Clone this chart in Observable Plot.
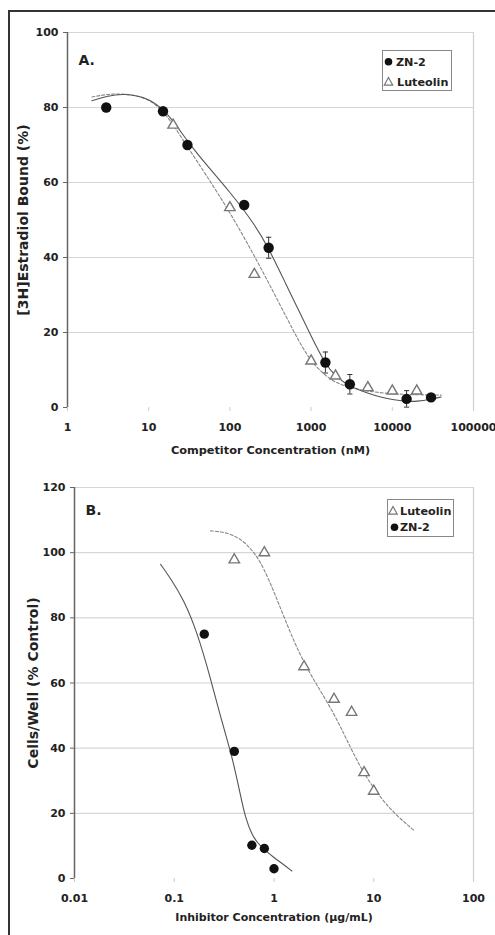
<!DOCTYPE html>
<html>
<head>
<meta charset="utf-8">
<script src="https://cdn.jsdelivr.net/npm/d3@7"></script>
<script src="https://cdn.jsdelivr.net/npm/@observablehq/plot@0.6"></script>
<style>
  body { margin: 0; background: #fff; }
  #fig { position: relative; width: 495px; height: 935px; overflow: hidden; background: #fff;
         font-family: "DejaVu Sans", sans-serif; font-weight: bold; color: #222; }
  .panel { position: absolute; left: 0; }
  .legend { position: absolute; background: #fff; border: 1px solid #888; box-sizing: border-box; }
  .legend svg { display: block; }
  #frame { position: absolute; left: 8px; top: 10px; width: 600px; height: 1000px;
           border-left: 2px solid #333; border-top: 2px solid #333; pointer-events: none; }
</style>
</head>
<body>
<div id="fig">
  <div id="panelA" class="panel" style="top:0px"></div>
  <div id="panelB" class="panel" style="top:465px"></div>
  <div id="legendA" class="legend" style="left:382px; top:50px; width:70px; height:41px"></div>
  <div id="legendB" class="legend" style="left:387px; top:499px; width:67px; height:38px"></div>
  <div id="frame"></div>
</div>
<script>
// ---------- Series names / labels ----------
const seriesZN = "ZN-2";
const seriesLut = "Luteolin";
const panelLabelA = "A.";
const panelLabelB = "B.";
const xTitleA = "Competitor Concentration (nM)";
const yTitleA = "[3H]Estradiol Bound (%)";
const xTitleB = "Inhibitor Concentration (µg/mL)";
const yTitleB = "Cells/Well (% Control)";

// ---------- Panel A: axes ----------
const xDomainA = [1, 100000];
const yDomainA = [0, 100];
const xTicksA = [1, 10, 100, 1000, 10000, 100000];
const yTicksA = [0, 20, 40, 60, 80, 100];

// ---------- Panel A: ZN-2 data (mean ± error) ----------
const znA_x = [3, 15, 30, 150, 300, 1500, 3000, 15000, 30000];
const znA_y = [80, 79, 70, 54, 42.6, 12, 6.2, 2.3, 2.7];
const znA_err = [1, 1, 1, 1, 2.8, 2.8, 2.6, 2.2, 1];

// ---------- Panel A: Luteolin data ----------
const lutA_x = [20, 100, 200, 1000, 2000, 5000, 10000, 20000];
const lutA_y = [75.3, 53.3, 35.5, 12.4, 8.4, 5.3, 4.4, 4.4];

// ---------- Panel A: fitted curves ----------
const fitZnA_x = [2, 3, 5, 10, 15, 20, 30, 50, 100, 200, 300, 500, 700, 1000, 1500, 2000, 3000, 5000, 7000, 10000, 15000, 20000, 30000, 40000];
const fitZnA_y = [81.8, 83, 83.8, 82.5, 79.5, 76.5, 71, 65, 57.5, 49, 42.5, 32.5, 26, 19, 11.5, 8.3, 5.6, 3.8, 2.8, 2.1, 1.6, 1.6, 2.2, 2.8];
const fitLutA_x = [2, 3, 5, 10, 15, 20, 30, 50, 100, 200, 300, 500, 700, 1000, 1500, 2000, 3000, 5000, 10000, 20000, 40000];
const fitLutA_y = [82.8, 83.5, 83.8, 82.5, 79, 75.5, 69.5, 62.3, 52.1, 40.5, 33.2, 24, 17.8, 12.2, 8.5, 6.6, 5.3, 4.3, 3.6, 3.4, 3.3];

// ---------- Panel B: axes ----------
const xDomainB = [0.01, 100];
const yDomainB = [0, 120];
const xTicksB = [0.01, 0.1, 1, 10, 100];
const yTicksB = [0, 20, 40, 60, 80, 100, 120];

// ---------- Panel B: data ----------
const lutB_x = [0.4, 0.8, 2, 4, 6, 8, 10];
const lutB_y = [97.8, 100, 65, 55, 51, 32.5, 26.8];
const znB_x = [0.2, 0.4, 0.6, 0.8, 1];
const znB_y = [75, 39, 10.2, 9.2, 3];

// ---------- Panel B: fitted curves ----------
const fitZnB_x = [0.073, 0.09, 0.125, 0.17, 0.231, 0.291, 0.381, 0.461, 0.518, 0.6, 0.68, 0.8, 1.0, 1.25, 1.51];
const fitZnB_y = [96.4, 92.5, 85.5, 75.5, 61.5, 49.5, 37.5, 25.5, 18.5, 13.5, 11, 8.8, 6.4, 4.3, 2.3];
const fitLutB_x = [0.231, 0.3, 0.366, 0.45, 0.538, 0.65, 0.79, 1.0, 1.25, 1.6, 2.0, 2.5, 3.0, 4.0, 5.0, 6.0, 8.0, 11.7, 16, 25.2];
const fitLutB_y = [106.7, 106.4, 105.7, 104.4, 102.4, 99.6, 95.2, 88, 80.5, 72.5, 66.3, 61, 57, 50.5, 44.5, 39.5, 32, 24.8, 20, 14.8];

// ---------- helpers ----------
const zip = (xs, ys) => xs.map((x, i) => ({x, y: ys[i]}));
const capSymbol = {
  draw(ctx, size) { const r = Math.sqrt(size / Math.PI); ctx.moveTo(-r, 0); ctx.lineTo(r, 0); }
};
const baseStyle = {
  fontFamily: "'DejaVu Sans', sans-serif", fontWeight: "bold", fontSize: "11px",
  color: "#222", background: "transparent", overflow: "visible"
};
const fmt = d => String(d);

// ---------- Panel A ----------
const znA = znA_x.map((x, i) => ({x, y: znA_y[i], lo: znA_y[i] - znA_err[i], hi: znA_y[i] + znA_err[i]}));
const capsA = znA.flatMap(d => [{x: d.x, y: d.lo}, {x: d.x, y: d.hi}]);

const plotA = Plot.plot({
  width: 495, height: 465,
  marginLeft: 67, marginRight: 22, marginTop: 32, marginBottom: 58,
  x: {type: "log", domain: xDomainA},
  y: {domain: yDomainA},
  style: baseStyle,
  marks: [
    Plot.ruleY(yTicksA.filter(d => d > 0), {stroke: "#d6d6d6", strokeWidth: 1.2}),
    Plot.ruleX([xDomainA[1]], {stroke: "#d0d0d0", strokeWidth: 1.2}),
    Plot.ruleX([xDomainA[0]], {stroke: "#666", strokeWidth: 1.5}),
    Plot.axisY({ticks: yTicksA, tickSize: 4, tickPadding: 5, stroke: "#666", fill: "#222", label: null, tickFormat: fmt}),
    Plot.axisX({ticks: xTicksA, tickSize: 4, tickPadding: 12, stroke: "#ccc", fill: "#222", label: null, tickFormat: fmt}),
    Plot.line(zip(fitLutA_x, fitLutA_y), {x: "x", y: "y", curve: "basis", stroke: "#888", strokeWidth: 1.1, strokeDasharray: "3,2"}),
    Plot.line(zip(fitZnA_x, fitZnA_y), {x: "x", y: "y", curve: "basis", stroke: "#555", strokeWidth: 1.1}),
    Plot.ruleX(znA, {x: "x", y1: "lo", y2: "hi", stroke: "#333", strokeWidth: 1}),
    Plot.dot(capsA, {x: "x", y: "y", symbol: capSymbol, r: 2.6, stroke: "#333", strokeWidth: 1}),
    Plot.dot(zip(lutA_x, lutA_y), {x: "x", y: "y", symbol: "triangle", r: 3.9, stroke: "#777", fill: "white", strokeWidth: 1.4}),
    Plot.dot(znA, {x: "x", y: "y", r: 5.2, fill: "#111", stroke: "none"}),
    Plot.text([panelLabelA], {text: d => d, frameAnchor: "top-left", textAnchor: "start", dx: 11, dy: 23, fontSize: 14, fill: "#222"}),
    Plot.text([xTitleA], {text: d => d, frameAnchor: "bottom", textAnchor: "middle", dy: 46, fontSize: 11.3, fill: "#222"}),
    Plot.text([yTitleA], {text: d => d, frameAnchor: "left", textAnchor: "middle", dx: -44, rotate: -90, fontSize: 14, fill: "#222"})
  ]
});
document.getElementById("panelA").appendChild(plotA);

// ---------- Panel B ----------
const plotB = Plot.plot({
  width: 495, height: 470,
  marginLeft: 74, marginRight: 22, marginTop: 22, marginBottom: 57,
  x: {type: "log", domain: xDomainB},
  y: {domain: yDomainB},
  style: baseStyle,
  marks: [
    Plot.ruleY(yTicksB.filter(d => d > 0), {stroke: "#d6d6d6", strokeWidth: 1.2}),
    Plot.ruleX([xDomainB[1]], {stroke: "#d0d0d0", strokeWidth: 1.2}),
    Plot.ruleX([xDomainB[0]], {stroke: "#666", strokeWidth: 1.5}),
    Plot.axisY({ticks: yTicksB, tickSize: 4, tickPadding: 5, stroke: "#666", fill: "#222", label: null, tickFormat: fmt}),
    Plot.axisX({ticks: xTicksB, tickSize: 4, tickPadding: 12, stroke: "#ccc", fill: "#222", label: null, tickFormat: fmt}),
    Plot.line(zip(fitLutB_x, fitLutB_y), {x: "x", y: "y", curve: "basis", stroke: "#888", strokeWidth: 1.1, strokeDasharray: "3,2"}),
    Plot.line(zip(fitZnB_x, fitZnB_y), {x: "x", y: "y", curve: "basis", stroke: "#555", strokeWidth: 1.1}),
    Plot.dot(zip(lutB_x, lutB_y), {x: "x", y: "y", symbol: "triangle", r: 3.9, stroke: "#777", fill: "white", strokeWidth: 1.4}),
    Plot.dot(zip(znB_x, znB_y), {x: "x", y: "y", r: 4.7, fill: "#111", stroke: "none"}),
    Plot.text([panelLabelB], {text: d => d, frameAnchor: "top-left", textAnchor: "start", dx: 11, dy: 18, fontSize: 14, fill: "#222"}),
    Plot.text([xTitleB], {text: d => d, frameAnchor: "bottom", textAnchor: "middle", dy: 42, fontSize: 11, fill: "#222"}),
    Plot.text([yTitleB], {text: d => d, frameAnchor: "left", textAnchor: "middle", dx: -41, rotate: -90, fontSize: 14, fill: "#222"})
  ]
});
document.getElementById("panelB").appendChild(plotB);

// ---------- Legends ----------
function legendSVG(w, h, rows) {
  const ns = "http://www.w3.org/2000/svg";
  const svg = document.createElementNS(ns, "svg");
  svg.setAttribute("width", w - 2); svg.setAttribute("height", h - 2);
  rows.forEach(r => {
    if (r.kind === "circle") {
      const c = document.createElementNS(ns, "circle");
      c.setAttribute("cx", r.sx); c.setAttribute("cy", r.cy); c.setAttribute("r", 3.8);
      c.setAttribute("fill", "#111");
      svg.appendChild(c);
    } else {
      const p = document.createElementNS(ns, "path");
      const s = 4.2;
      p.setAttribute("d", `M${r.sx},${r.cy - s}L${r.sx + s},${r.cy + s * 0.8}L${r.sx - s},${r.cy + s * 0.8}Z`);
      p.setAttribute("fill", "white"); p.setAttribute("stroke", "#777"); p.setAttribute("stroke-width", 1.2);
      svg.appendChild(p);
    }
    const t = document.createElementNS(ns, "text");
    t.setAttribute("x", r.tx); t.setAttribute("y", r.cy); t.setAttribute("dy", "0.36em");
    t.setAttribute("font-family", "'DejaVu Sans', sans-serif"); t.setAttribute("font-weight", "bold");
    t.setAttribute("font-size", "11.2px"); t.setAttribute("fill", "#222");
    t.textContent = r.label;
    svg.appendChild(t);
  });
  return svg;
}
document.getElementById("legendA").appendChild(legendSVG(70, 41, [
  {kind: "circle", label: seriesZN, sx: 5.5, tx: 13, cy: 10.7},
  {kind: "triangle", label: seriesLut, sx: 5.5, tx: 14, cy: 30.7}
]));
document.getElementById("legendB").appendChild(legendSVG(67, 38, [
  {kind: "triangle", label: seriesLut, sx: 5, tx: 12, cy: 10.7},
  {kind: "circle", label: seriesZN, sx: 6.5, tx: 12, cy: 27.3}
]));
</script>
</body>
</html>
